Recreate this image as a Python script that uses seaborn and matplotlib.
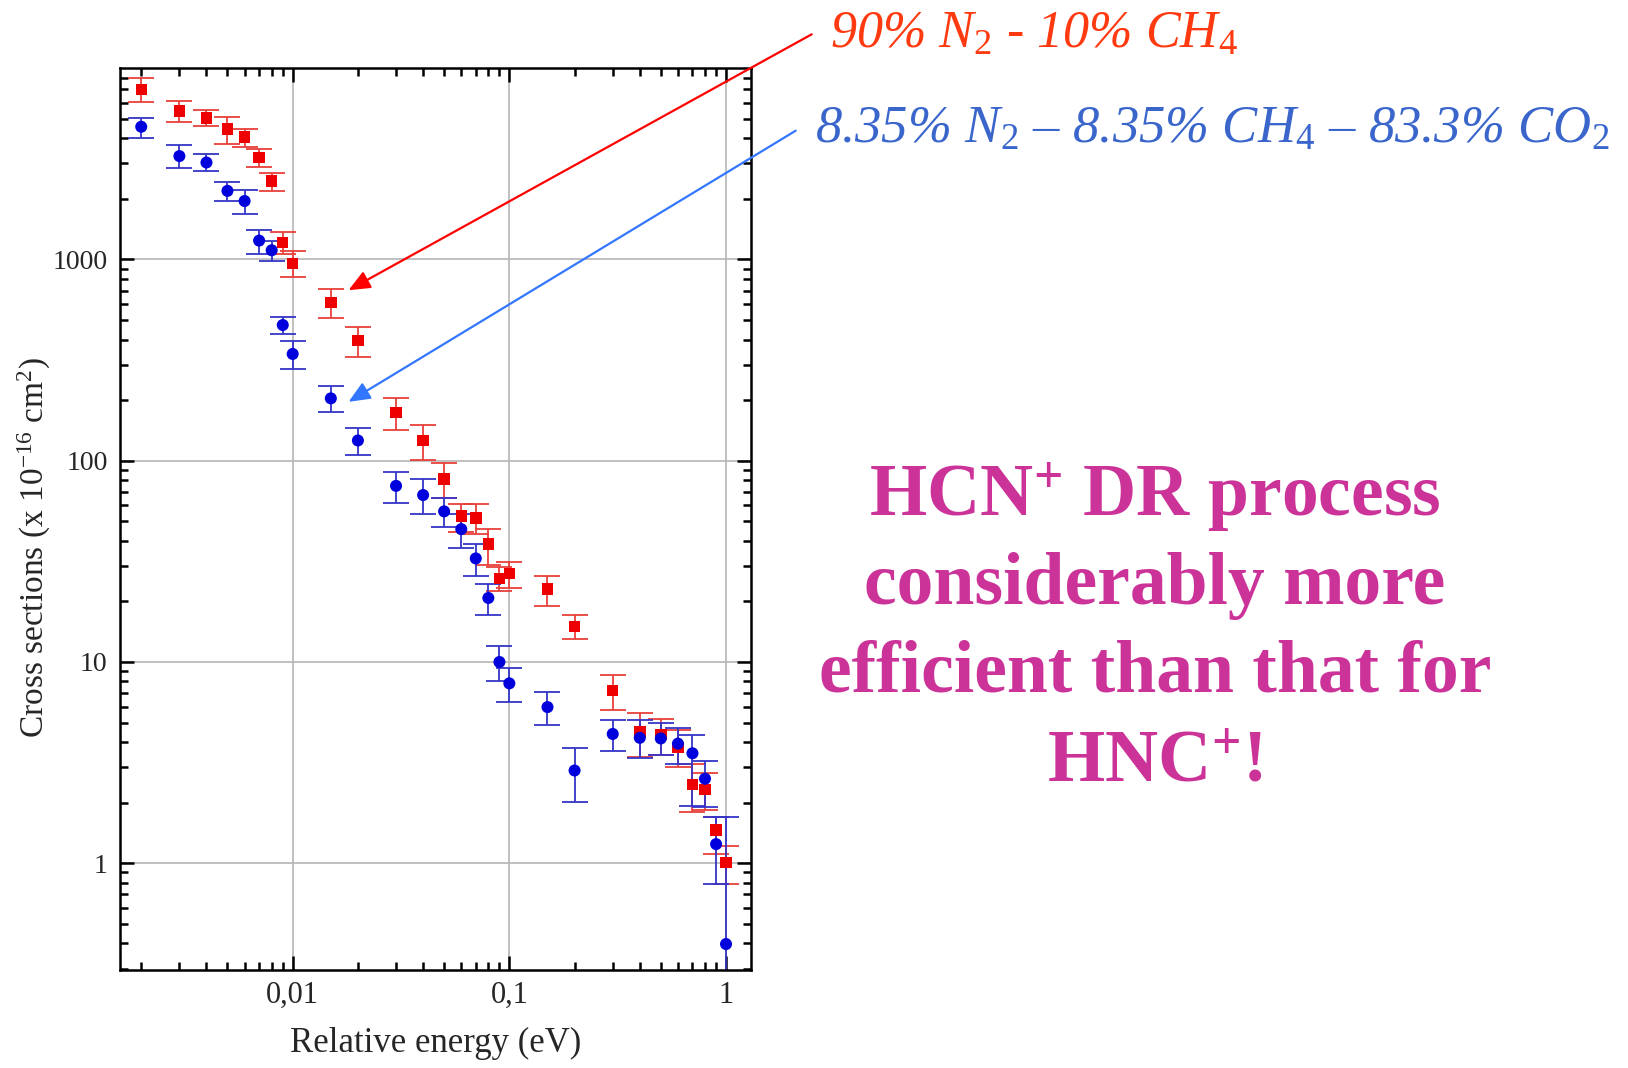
import numpy as np
import pandas as pd
import matplotlib
matplotlib.use("Agg")
import matplotlib.pyplot as plt
import matplotlib.ticker as mticker
import seaborn as sns

# ---------------- data ----------------
energy = [0.002, 0.003, 0.004, 0.005, 0.006, 0.007, 0.008, 0.009, 0.01, 0.015, 0.02,
          0.03, 0.04, 0.05, 0.06, 0.07, 0.08, 0.09, 0.1, 0.15, 0.2, 0.3, 0.4, 0.5,
          0.6, 0.7, 0.8, 0.9, 1.0]

cs_n2ch4 = [7000, 5450, 5050, 4450, 4050, 3200, 2450, 1210, 955, 610, 395,
            174, 126, 81, 53, 52, 38.5, 26, 27.5, 23, 15, 7.2, 4.5, 4.35,
            3.75, 2.47, 2.33, 1.46, 1.01]
hi_n2ch4 = [8000, 6150, 5550, 5100, 4450, 3550, 2700, 1370, 1100, 710, 460,
            206, 150, 97, 61, 61, 45.7, 29.7, 31.3, 26.8, 17.1, 8.6, 5.6, 5.2,
            4.6, 3.13, 2.82, 1.70, 1.22]
lo_n2ch4 = [6070, 4800, 4600, 3730, 3620, 2880, 2180, 1060, 816, 510, 327,
            142, 101, 65, 44, 43, 30.3, 22.4, 23.4, 19, 13, 5.8, 3.36, 3.45,
            3.0, 1.79, 1.84, 1.11, 0.79]

cs_co2 = [4560, 3260, 3030, 2190, 1950, 1240, 1110, 472, 339, 204, 126,
          75, 67.5, 56, 45.7, 32.7, 20.8, 10, 7.83, 5.97, 2.89, 4.39, 4.2, 4.17,
          3.93, 3.52, 2.63, 1.245, 0.397]
hi_co2 = [5020, 3700, 3340, 2420, 2200, 1400, 1240, 519, 394, 235, 146,
          87.5, 80.7, 65, 54.3, 38.4, 24.5, 12, 9.33, 7.06, 3.72, 5.14, 5.13, 4.96,
          4.68, 4.36, 3.22, 1.70, 1.70]
lo_co2 = [4020, 2830, 2750, 1950, 1690, 1060, 980, 424, 285, 174, 107,
          61.8, 54.3, 47, 37, 26.7, 17.1, 8.07, 6.34, 4.87, 2.01, 3.6, 3.32, 3.45,
          3.13, 1.92, 1.90, 0.79, 0.1]

x_ticks = [0.01, 0.1, 1]
x_ticklabels = ["0,01", "0,1", "1"]
y_ticks = [1, 10, 100, 1000]
y_ticklabels = ["1", "10", "100", "1000"]

label_red = r"90% N$_{\mathit{2}}$ - 10% CH$_{\mathit{4}}$"
label_blue = (r"8.35% N$_{\mathit{2}}$ – 8.35% CH$_{\mathit{4}}$ – "
              r"83.3% CO$_{\mathit{2}}$")
message = [r"HCN$^{\mathbf{+}}$ DR process",
           "considerably more",
           "efficient than that for",
           r"HNC$^{\mathbf{+}}$!"]

# ---------------- style ----------------
sns.set_style("ticks")
plt.rcParams["font.family"] = ["Liberation Serif", "DejaVu Serif"]
plt.rcParams["mathtext.fontset"] = "custom"
plt.rcParams["mathtext.rm"] = "Liberation Serif"
plt.rcParams["mathtext.it"] = "Liberation Serif:italic"
plt.rcParams["mathtext.bf"] = "Liberation Serif:bold"

df_red = pd.DataFrame({"energy": energy, "cs": cs_n2ch4,
                       "lo": lo_n2ch4, "hi": hi_n2ch4})
df_blue = pd.DataFrame({"energy": energy, "cs": cs_co2,
                        "lo": lo_co2, "hi": hi_co2})

fig = plt.figure(figsize=(16.28, 10.68), dpi=100)
ax = fig.add_axes([120 / 1628, 1 - 970 / 1068, 630.7 / 1628, 901.7 / 1068])
ax.set_xscale("log")
ax.set_yscale("log")
ax.set_xlim(0.001596, 1.30)
ax.set_ylim(0.295, 8900)

ax.grid(True, which="major", color="#b5b5b5", lw=1.2, zorder=0)

for d, ecol in ((df_red, "#e8403a"), (df_blue, "#3535c8")):
    yerr = np.vstack([d["cs"] - d["lo"], d["hi"] - d["cs"]])
    ax.errorbar(d["energy"], d["cs"], yerr=yerr, fmt="none", ecolor=ecol,
                elinewidth=1.3, capsize=9.5, capthick=1.3, zorder=2)

sns.scatterplot(data=df_red, x="energy", y="cs", marker="s", s=68,
                color="#ee0000", edgecolor="none", ax=ax, zorder=3, legend=False)
sns.scatterplot(data=df_blue, x="energy", y="cs", marker="o", s=75,
                color="#0000dd", edgecolor="none", ax=ax, zorder=4, legend=False)

ax.xaxis.set_major_locator(mticker.FixedLocator(x_ticks))
ax.xaxis.set_major_formatter(mticker.FixedFormatter(x_ticklabels))
ax.xaxis.set_minor_locator(mticker.LogLocator(base=10, subs=np.arange(2, 10)))
ax.xaxis.set_minor_formatter(mticker.NullFormatter())
ax.yaxis.set_major_locator(mticker.FixedLocator(y_ticks))
ax.yaxis.set_major_formatter(mticker.FixedFormatter(y_ticklabels))
ax.yaxis.set_minor_locator(mticker.LogLocator(base=10, subs=np.arange(2, 10)))
ax.yaxis.set_minor_formatter(mticker.NullFormatter())

ax.tick_params(which="both", direction="in", top=True, right=True,
               color="black", width=1.8)
ax.tick_params(which="major", length=10, pad=9)
ax.tick_params(axis="y", which="major", labelsize=20)
ax.tick_params(axis="x", which="major", labelsize=22, pad=8)
ax.tick_params(which="minor", length=6)
for sp in ax.spines.values():
    sp.set_linewidth(1.8)
    sp.set_color("black")

ax.set_xlabel("Relative energy (eV)", fontsize=25, va="center")
ax.xaxis.set_label_coords(0.5, -0.081)
ax.set_ylabel(r"Cross sections (x 10$^{\mathregular{-16}}$ cm$^{\mathregular{2}}$)",
              fontsize=24, va="center", ha="center")
ax.yaxis.set_label_coords(-0.136, 0.469)

# ---------------- annotations ----------------
fig.text(830 / 1628, 1 - 48 / 1068, label_red, fontsize=37.5, style="italic",
         color="#ff3a10", ha="left", va="baseline")
fig.text(815 / 1628, 1 - 143 / 1068, label_blue, fontsize=38, style="italic",
         color="#3a66cc", ha="left", va="baseline")

ax.annotate("", xy=(0.0181, 703), xycoords="data",
            xytext=(811.7 / 1628, 1 - 34.3 / 1068), textcoords="figure fraction",
            arrowprops=dict(arrowstyle="-|>,head_length=0.65,head_width=0.28",
                            mutation_scale=20, lw=1.6, color="#ff0000",
                            shrinkA=0, shrinkB=0),
            annotation_clip=False)
ax.annotate("", xy=(0.0181, 196), xycoords="data",
            xytext=(795.7 / 1628, 1 - 130.7 / 1068), textcoords="figure fraction",
            arrowprops=dict(arrowstyle="-|>,head_length=0.65,head_width=0.28",
                            mutation_scale=20, lw=1.6, color="#3377ff",
                            shrinkA=0, shrinkB=0),
            annotation_clip=False)

baselines = [516, 604, 692, 782]
for line, b in zip(message, baselines):
    fig.text(1155 / 1628, 1 - b / 1068, line, fontsize=53, fontweight="bold",
             color="#cc3399", ha="center", va="baseline")

fig.savefig("out.png", dpi=100, facecolor="white")
